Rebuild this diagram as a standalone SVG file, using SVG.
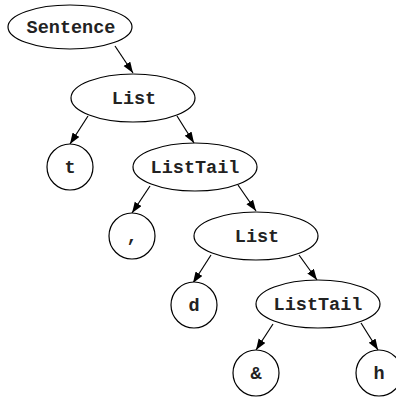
<svg xmlns="http://www.w3.org/2000/svg" width="396" height="399" viewBox="0 0 396 399">
<style>
.n{fill:#fff;stroke:#000;stroke-width:1.2}
.t{font-family:"Liberation Mono","DejaVu Sans Mono",monospace;font-weight:bold;font-size:18.5px;fill:#222;text-anchor:middle}
.e{stroke:#000;stroke-width:1.2;fill:none;marker-end:url(#a)}
</style>
<defs>
<marker id="a" markerUnits="userSpaceOnUse" markerWidth="12" markerHeight="9" refX="11" refY="4" orient="auto">
<path d="M0,0 L11,4 L0,8 z" fill="#000"/>
</marker>
</defs>
<rect width="396" height="399" fill="#fff"/>
<g id="connectors">
<line class="e" x1="115" y1="46" x2="133" y2="73"/>
<line class="e" x1="88" y1="116" x2="70" y2="144"/>
<line class="e" x1="177" y1="116" x2="194" y2="143"/>
<line class="e" x1="150" y1="186" x2="132" y2="213"/>
<line class="e" x1="238" y1="185" x2="256" y2="211"/>
<line class="e" x1="211" y1="255" x2="193" y2="283"/>
<line class="e" x1="299" y1="255" x2="317" y2="280"/>
<line class="e" x1="273" y1="324" x2="256" y2="350"/>
<line class="e" x1="361" y1="323" x2="378" y2="350"/>
</g>
<g id="n-sentence"><ellipse class="n" cx="70" cy="27" rx="62" ry="22"/><text class="t" x="71" y="33">Sentence</text></g>
<g id="n-list1"><ellipse class="n" cx="133" cy="98" rx="62" ry="24"/><text class="t" x="134" y="104">List</text></g>
<g id="n-t"><circle class="n" cx="70" cy="167" r="23"/><text class="t" x="70" y="173">t</text></g>
<g id="n-listtail1"><ellipse class="n" cx="195" cy="167" rx="62" ry="24"/><text class="t" x="195" y="173">ListTail</text></g>
<g id="n-comma"><circle class="n" cx="132" cy="236" r="23"/><text class="t" x="132" y="242">,</text></g>
<g id="n-list2"><ellipse class="n" cx="256" cy="236" rx="62" ry="24"/><text class="t" x="257" y="242">List</text></g>
<g id="n-d"><circle class="n" cx="194" cy="305" r="23"/><text class="t" x="194" y="311">d</text></g>
<g id="n-listtail2"><ellipse class="n" cx="318" cy="304" rx="62" ry="24"/><text class="t" x="318" y="310">ListTail</text></g>
<g id="n-amp"><circle class="n" cx="256" cy="373" r="23"/><text class="t" x="256" y="379">&amp;</text></g>
<g id="n-h"><circle class="n" cx="379" cy="373" r="23"/><text class="t" x="379" y="379">h</text></g>
</svg>
